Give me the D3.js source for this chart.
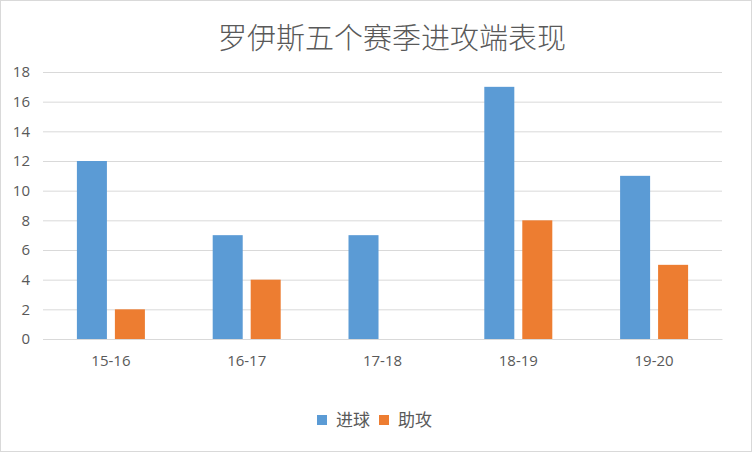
<!DOCTYPE html>
<html>
  <head>
    <meta charset="utf-8">
    <title>罗伊斯五个赛季进攻端表现</title>
    <script src="https://d3js.org/d3.v7.min.js"></script>
  </head>
  <style>
    body { margin: 0; background: #fff; }
    .grid-line { stroke: #d9d9d9; stroke-width: 1px; }
    text { fill: #595959; }
  </style>
  <body>
    <script>
      const width = 752;
      const height = 452;
      const margin = {top: 72, right: 30, bottom: 113, left: 43};

      // data
      const seasons = ["15-16", "16-17", "17-18", "18-19", "19-20"];
      const goals = [12, 7, 7, 17, 11];
      const assists = [2, 4, 0, 8, 5];
      const seriesNames = ["进球", "助攻"];
      const seriesColors = ["#5b9bd5", "#ed7d31"];
      const yTicks = [0, 2, 4, 6, 8, 10, 12, 14, 16, 18];

      const values = [goals, assists];
      const innerW = width - margin.left - margin.right;
      const innerH = height - margin.top - margin.bottom;

      const xScale = d3.scaleBand()
        .domain(seasons)
        .range([0, innerW]);

      const xInner = d3.scaleBand()
        .domain(seriesNames)
        .range([xScale.bandwidth() / 2 - 34, xScale.bandwidth() / 2 + 34])
        .paddingInner(0.21);

      const yScale = d3.scaleLinear()
        .domain([0, 18])
        .range([innerH, 0]);

      const svg = d3.select("body")
        .append("svg")
          .attr("width", width)
          .attr("height", height);

      svg.append("rect")
          .attr("x", 0.5).attr("y", 0.5)
          .attr("width", width - 1).attr("height", height - 1)
          .attr("fill", "#fff")
          .attr("stroke", "#d9d9d9");

      svg.append("text")
          .attr("x", width / 2 + 16)
          .attr("y", 49)
          .attr("text-anchor", "middle")
          .style("font-family", "'Noto Sans CJK SC', sans-serif")
          .style("font-weight", "300")
          .style("font-size", "29px")
          .text("罗伊斯五个赛季进攻端表现");

      const g = svg.append("g")
          .attr("transform", "translate(" + margin.left + "," + margin.top + ")");

      // y axis with grid
      const yAxis = d3.axisLeft(yScale)
        .tickValues(yTicks)
        .tickSize(-innerW)
        .tickPadding(13);

      g.append("g")
          .classed("y-axis", true)
          .call(yAxis)
          .call(function(a) {
            a.select(".domain").remove();
            a.selectAll(".tick line").classed("grid-line", true).attr("stroke", null);
            a.selectAll(".tick text")
              .style("font-family", "'Open Sans', sans-serif")
              .style("font-size", "15px")
              .attr("fill", "#595959");
          });

      // x axis
      const xAxis = d3.axisBottom(xScale).tickSize(0).tickPadding(16);
      g.append("g")
          .attr("transform", "translate(0," + innerH + ")")
          .call(xAxis)
          .call(function(a) {
            a.select(".domain").attr("stroke", "#d9d9d9");
            a.selectAll(".tick text")
              .style("font-family", "'Open Sans', sans-serif")
              .style("font-size", "15px")
              .attr("fill", "#595959");
          });

      // bars
      g.append("g")
        .selectAll("g")
        .data(seriesNames)
        .enter()
        .append("g")
          .attr("fill", function(d, i) { return seriesColors[i]; })
        .selectAll("rect")
        .data(function(d, i) {
          return seasons.map(function(s, j) { return {season: s, key: d, value: values[i][j]}; });
        })
        .enter()
        .append("rect")
          .attr("x", function(d) { return xScale(d.season) + xInner(d.key); })
          .attr("y", function(d) { return yScale(d.value); })
          .attr("width", xInner.bandwidth())
          .attr("height", function(d) { return innerH - yScale(d.value); });

      // legend
      const legendX = [317, 379];
      const legend = svg.append("g")
        .selectAll("g")
        .data(seriesNames)
        .enter()
        .append("g")
          .attr("transform", function(d, i) { return "translate(" + legendX[i] + ",415)"; });

      legend.append("rect")
          .attr("width", 10)
          .attr("height", 10)
          .attr("fill", function(d, i) { return seriesColors[i]; });

      legend.append("text")
          .attr("x", 19)
          .attr("y", 11)
          .style("font-family", "'Noto Sans CJK SC', sans-serif")
          .style("font-size", "17px")
          .text(function(d) { return d; });
    </script>
  </body>
</html>
